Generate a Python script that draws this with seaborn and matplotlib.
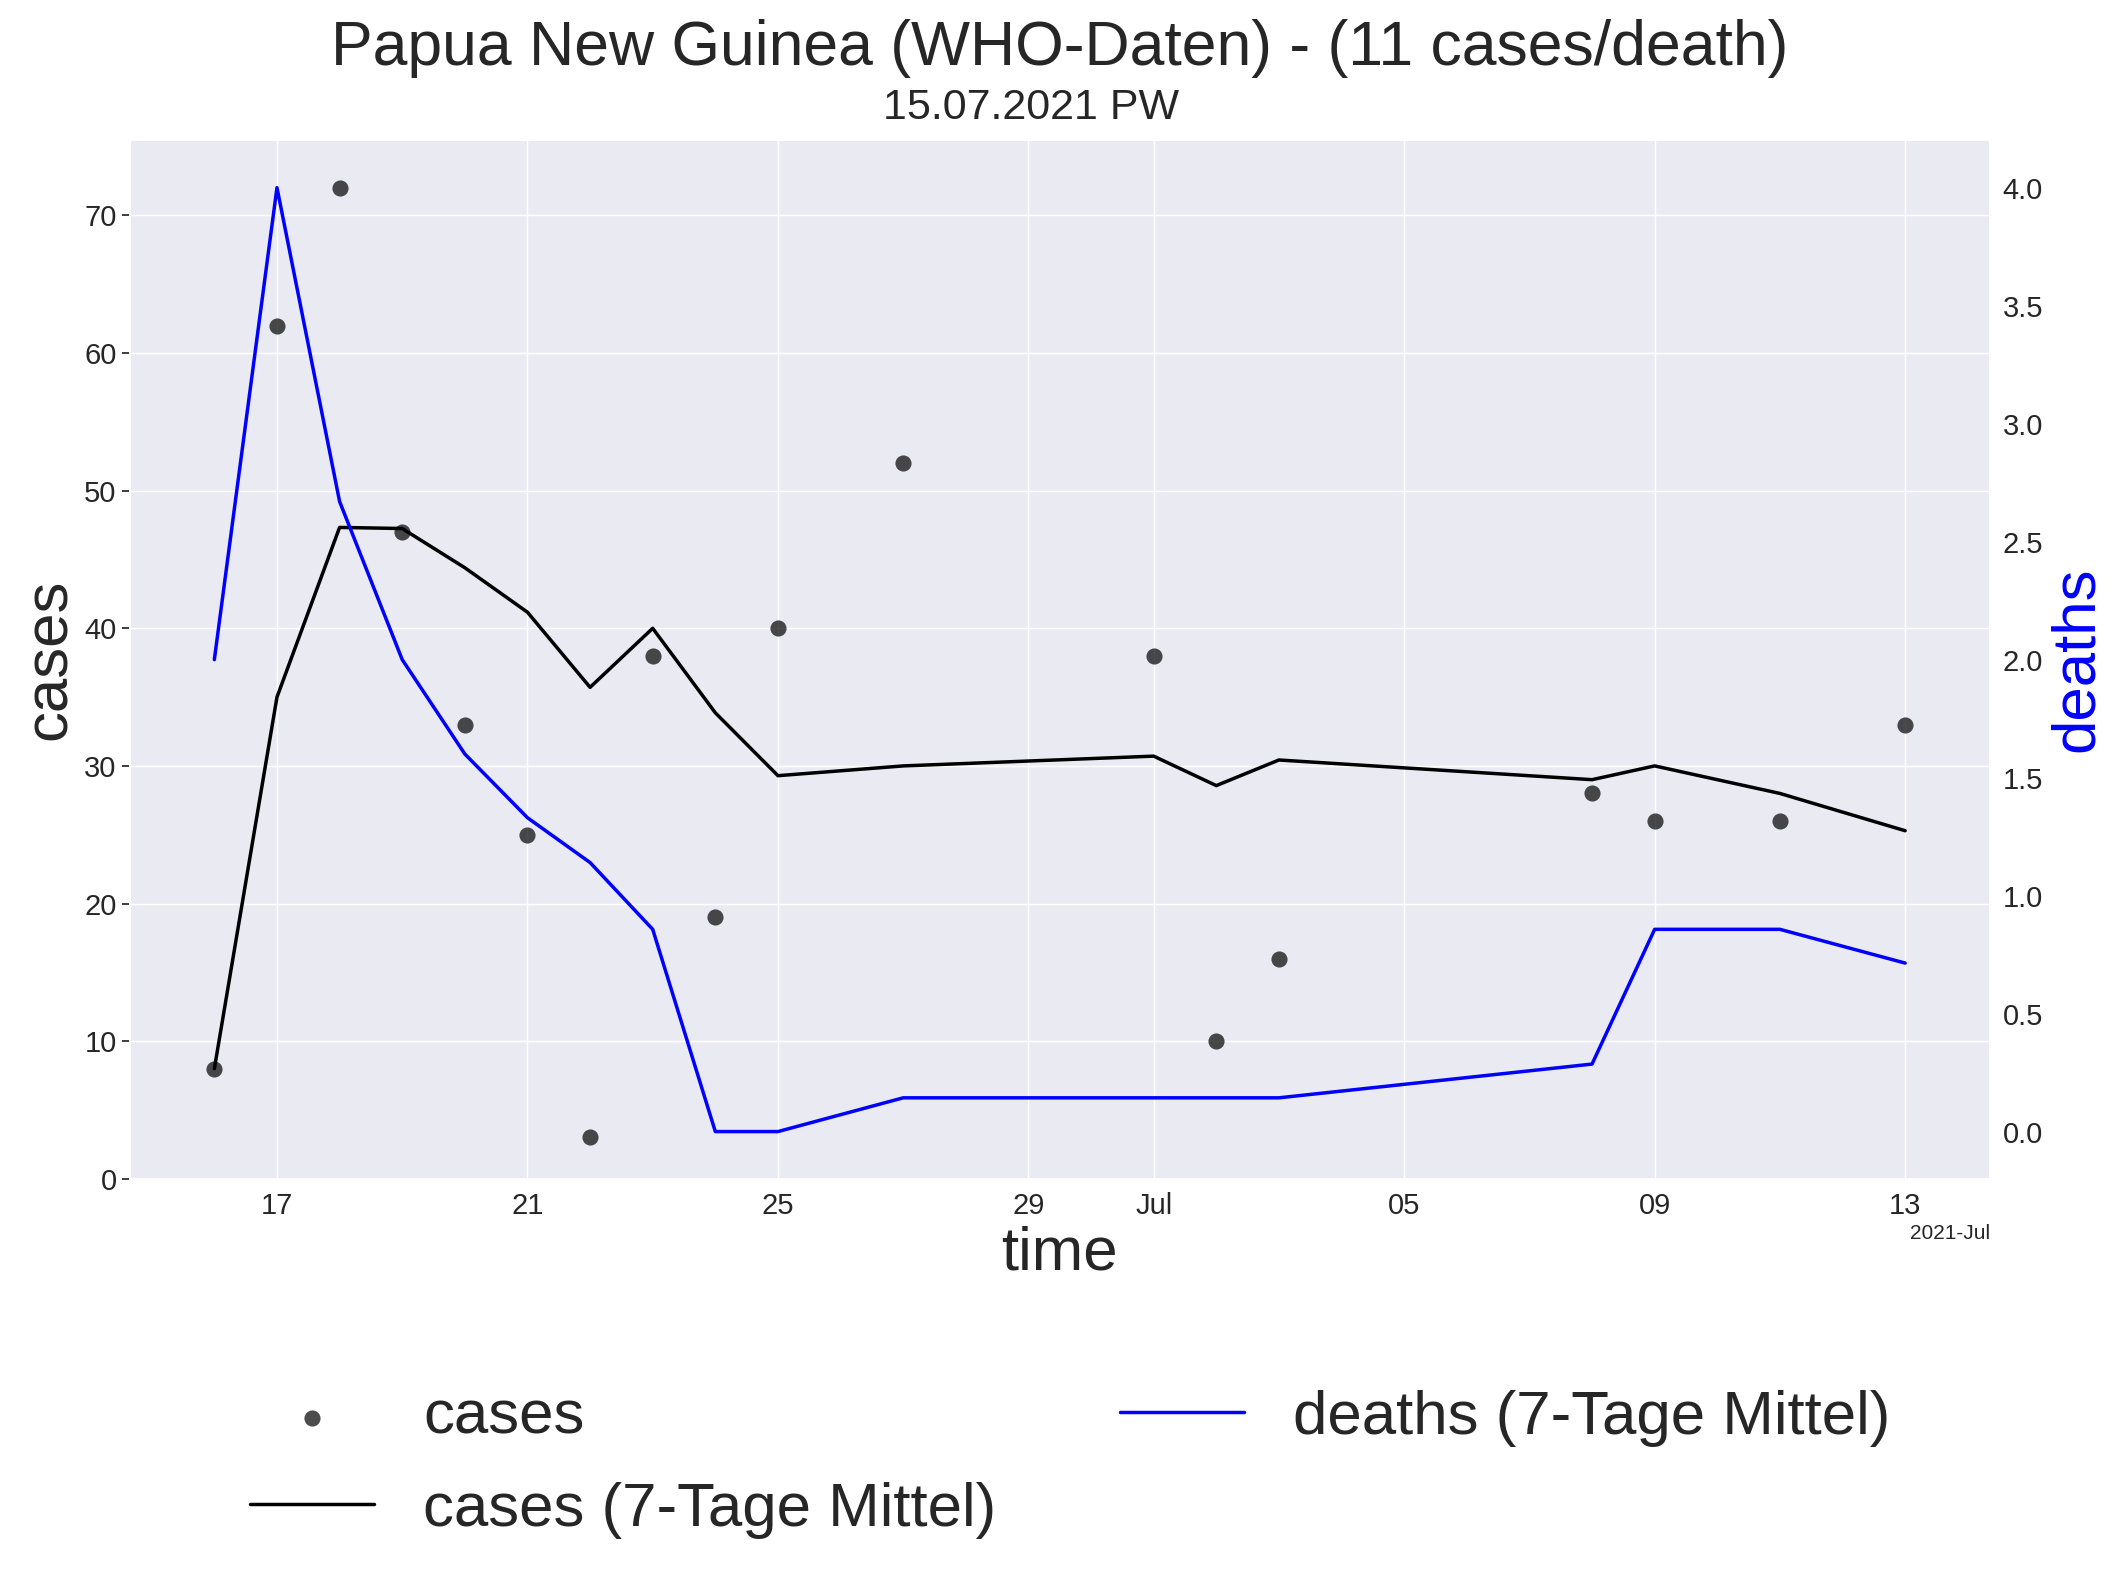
import matplotlib

matplotlib.use("Agg")

import matplotlib.dates as mdates
import matplotlib.pyplot as plt
import pandas as pd
import seaborn as sns

# WHO data, Papua New Guinea
dates = [
    "2021-06-16", "2021-06-17", "2021-06-18", "2021-06-19", "2021-06-20",
    "2021-06-21", "2021-06-22", "2021-06-23", "2021-06-24", "2021-06-25",
    "2021-06-27", "2021-07-01", "2021-07-02", "2021-07-03", "2021-07-08",
    "2021-07-09", "2021-07-11", "2021-07-13",
]
cases = [8, 62, 72, 47, 33, 25, 3, 38, 19, 40, 52, 38, 10, 16, 28, 26, 26, 33]
cases_avg = [8.0, 35.0, 47.33, 47.25, 44.4, 41.17, 35.71, 40.0, 33.86, 29.29,
             30.0, 30.71, 28.57, 30.43, 29.0, 30.0, 28.0, 25.29]
deaths_avg = [2.0, 4.0, 2.67, 2.0, 1.6, 1.33, 1.14, 0.857, 0.0, 0.0,
              0.143, 0.143, 0.143, 0.143, 0.286, 0.857, 0.857, 0.714]

TITLE = "Papua New Guinea (WHO-Daten) - (11 cases/death)"
SUBTITLE = "15.07.2021 PW"

df = pd.DataFrame({
    "time": pd.to_datetime(dates),
    "cases": cases,
    "cases_avg": cases_avg,
    "deaths_avg": deaths_avg,
})

sns.set_theme(style="darkgrid")
plt.rcParams["font.family"] = ["Liberation Sans", "DejaVu Sans"]
plt.rcParams["text.color"] = ".15"

fig = plt.figure(figsize=(21.28, 15.78), dpi=100)
ax = fig.add_axes([0.061, 0.253, 0.874, 0.658])

sns.scatterplot(data=df, x="time", y="cases", ax=ax, color="black", alpha=0.7,
                s=135, linewidth=0, label="cases")
sns.lineplot(data=df, x="time", y="cases_avg", ax=ax, color="black",
             linewidth=2.5, label="cases (7-Tage Mittel)")
ax.set_ylim(bottom=0)

ax2 = ax.twinx()
sns.lineplot(data=df, x="time", y="deaths_avg", ax=ax2, color="blue",
             linewidth=2.5, label="deaths (7-Tage Mittel)")
ax2.grid(False)
ax2.tick_params(right=False)

locator = mdates.AutoDateLocator()
ax.xaxis.set_major_locator(locator)
ax.xaxis.set_major_formatter(mdates.ConciseDateFormatter(locator))
ax.xaxis.get_offset_text().set_fontsize(15)

for a in (ax, ax2):
    a.tick_params(labelsize=21, colors=".15")
ax.set_xlabel("time", fontsize=44.5)
ax.set_ylabel("cases", fontsize=44.5)
ax2.set_ylabel("deaths", fontsize=44.5, color="blue")

fig.text(0.4846, 0.9245, SUBTITLE, fontsize=31, ha="center", va="baseline")
fig.text(0.498, 0.959, TITLE, fontsize=45, ha="center", va="baseline")

h1, l1 = ax.get_legend_handles_labels()
h2, l2 = ax2.get_legend_handles_labels()
ax.get_legend().remove()
ax2.get_legend().remove()
fig.legend(h1 + h2, l1 + l2, loc="center", bbox_to_anchor=(0.503, 0.072),
           ncol=2, frameon=False, fontsize=44.5, labelspacing=0.57)

fig.savefig("out.png", dpi=100)
plt.close(fig)
